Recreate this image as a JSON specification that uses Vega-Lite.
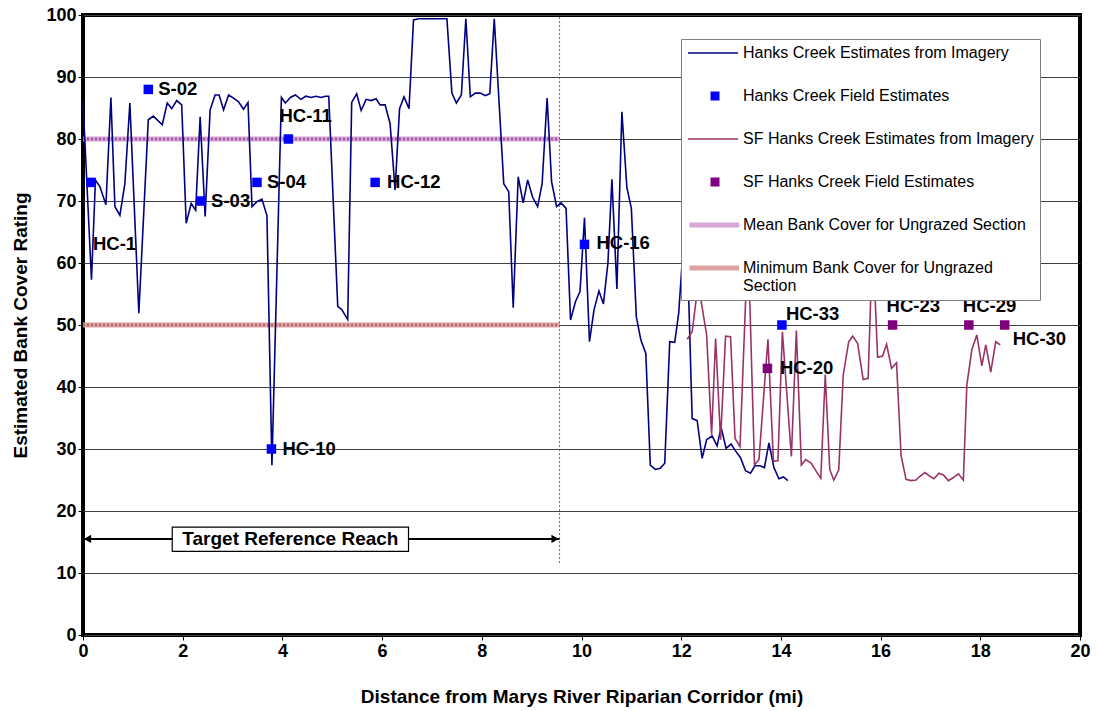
{
  "$schema": "https://vega.github.io/schema/vega-lite/v6.json",
  "width": 997,
  "height": 620,
  "autosize": {"type": "none"},
  "padding": {"left": 83, "top": 15, "right": 16, "bottom": 76},
  "background": "white",
  "config": {
    "view": {"stroke": "black", "strokeWidth": 4},
    "font": "Liberation Sans",
    "axis": {
      "labelFont": "Liberation Sans",
      "labelFontSize": 18,
      "labelFontWeight": "bold",
      "labelColor": "black",
      "labelFlush": false,
      "titleFont": "Liberation Sans",
      "titleFontSize": 19,
      "titleFontWeight": "bold",
      "titleColor": "black",
      "tickColor": "black",
      "tickSize": 5,
      "labelPadding": 2,
      "domain": false
    }
  },
  "datasets": {
    "hc": [
      {"x": 0.00, "y": 86.0}, {"x": 0.17, "y": 57.3}, {"x": 0.25, "y": 73.4}, {"x": 0.34, "y": 72.3},
      {"x": 0.46, "y": 69.4}, {"x": 0.56, "y": 86.7}, {"x": 0.64, "y": 69.1}, {"x": 0.74, "y": 67.7},
      {"x": 0.84, "y": 72.8}, {"x": 0.94, "y": 85.8}, {"x": 1.12, "y": 51.9}, {"x": 1.31, "y": 83.1},
      {"x": 1.41, "y": 83.7}, {"x": 1.59, "y": 82.3}, {"x": 1.69, "y": 85.8}, {"x": 1.78, "y": 84.9},
      {"x": 1.88, "y": 86.2}, {"x": 1.98, "y": 85.5}, {"x": 2.07, "y": 66.4}, {"x": 2.17, "y": 69.6},
      {"x": 2.26, "y": 68.5}, {"x": 2.35, "y": 83.6}, {"x": 2.45, "y": 67.5}, {"x": 2.55, "y": 84.7},
      {"x": 2.65, "y": 87.1}, {"x": 2.73, "y": 87.1}, {"x": 2.82, "y": 84.7}, {"x": 2.92, "y": 87.1},
      {"x": 3.02, "y": 86.6}, {"x": 3.12, "y": 86.0}, {"x": 3.22, "y": 84.8}, {"x": 3.31, "y": 85.9},
      {"x": 3.39, "y": 69.1}, {"x": 3.49, "y": 69.9}, {"x": 3.59, "y": 70.3}, {"x": 3.69, "y": 67.6},
      {"x": 3.79, "y": 27.4}, {"x": 3.98, "y": 86.7}, {"x": 4.06, "y": 85.8}, {"x": 4.16, "y": 86.7},
      {"x": 4.26, "y": 87.1}, {"x": 4.37, "y": 86.4}, {"x": 4.47, "y": 86.9}, {"x": 4.58, "y": 86.7},
      {"x": 4.67, "y": 86.9}, {"x": 4.78, "y": 86.7}, {"x": 4.86, "y": 86.9}, {"x": 4.93, "y": 86.9},
      {"x": 5.11, "y": 53.0}, {"x": 5.19, "y": 52.5}, {"x": 5.31, "y": 50.9}, {"x": 5.39, "y": 85.9},
      {"x": 5.49, "y": 87.3}, {"x": 5.58, "y": 84.6}, {"x": 5.68, "y": 86.4}, {"x": 5.78, "y": 86.2},
      {"x": 5.88, "y": 86.5}, {"x": 5.96, "y": 85.5}, {"x": 6.06, "y": 85.5}, {"x": 6.16, "y": 82.5},
      {"x": 6.26, "y": 71.8}, {"x": 6.35, "y": 84.9}, {"x": 6.44, "y": 86.8}, {"x": 6.54, "y": 84.9},
      {"x": 6.63, "y": 99.2}, {"x": 6.73, "y": 99.4}, {"x": 7.30, "y": 99.4}, {"x": 7.40, "y": 87.4},
      {"x": 7.49, "y": 85.8}, {"x": 7.59, "y": 87.1}, {"x": 7.68, "y": 99.4}, {"x": 7.77, "y": 86.8},
      {"x": 7.87, "y": 87.4}, {"x": 7.97, "y": 87.4}, {"x": 8.07, "y": 87.0}, {"x": 8.16, "y": 87.3},
      {"x": 8.25, "y": 99.4}, {"x": 8.44, "y": 72.8}, {"x": 8.54, "y": 71.5}, {"x": 8.63, "y": 52.8},
      {"x": 8.73, "y": 73.9}, {"x": 8.83, "y": 69.7}, {"x": 8.92, "y": 73.4}, {"x": 9.02, "y": 70.6},
      {"x": 9.12, "y": 69.1}, {"x": 9.21, "y": 72.8}, {"x": 9.31, "y": 86.6}, {"x": 9.40, "y": 73.1},
      {"x": 9.50, "y": 69.1}, {"x": 9.59, "y": 69.7}, {"x": 9.69, "y": 68.8}, {"x": 9.78, "y": 50.8},
      {"x": 9.88, "y": 53.8}, {"x": 9.97, "y": 55.4}, {"x": 10.06, "y": 67.3}, {"x": 10.16, "y": 47.3},
      {"x": 10.25, "y": 52.4}, {"x": 10.35, "y": 55.5}, {"x": 10.44, "y": 53.4}, {"x": 10.53, "y": 60.0},
      {"x": 10.61, "y": 73.5}, {"x": 10.71, "y": 55.8}, {"x": 10.81, "y": 84.4}, {"x": 10.91, "y": 72.2},
      {"x": 11.00, "y": 68.8}, {"x": 11.10, "y": 51.3}, {"x": 11.19, "y": 47.6}, {"x": 11.29, "y": 45.4},
      {"x": 11.38, "y": 27.4}, {"x": 11.48, "y": 26.7}, {"x": 11.58, "y": 26.9}, {"x": 11.67, "y": 27.7},
      {"x": 11.77, "y": 47.3}, {"x": 11.87, "y": 47.2}, {"x": 11.95, "y": 51.9}, {"x": 12.04, "y": 62.6},
      {"x": 12.10, "y": 66.0}, {"x": 12.15, "y": 54.6}, {"x": 12.22, "y": 34.9}, {"x": 12.32, "y": 34.6},
      {"x": 12.42, "y": 28.5}, {"x": 12.51, "y": 31.5}, {"x": 12.62, "y": 32.1}, {"x": 12.72, "y": 30.5},
      {"x": 12.80, "y": 33.5}, {"x": 12.90, "y": 30.1}, {"x": 13.00, "y": 30.8}, {"x": 13.09, "y": 29.7},
      {"x": 13.19, "y": 28.6}, {"x": 13.29, "y": 26.5}, {"x": 13.39, "y": 26.1}, {"x": 13.48, "y": 27.3},
      {"x": 13.58, "y": 27.3}, {"x": 13.67, "y": 27.0}, {"x": 13.76, "y": 31.0}, {"x": 13.86, "y": 27.0},
      {"x": 13.96, "y": 25.2}, {"x": 14.05, "y": 25.5}, {"x": 14.14, "y": 24.9}
    ],
    "sf": [
      {"x": 12.12, "y": 47.7}, {"x": 12.22, "y": 48.9}, {"x": 12.36, "y": 58.0}, {"x": 12.40, "y": 53.8},
      {"x": 12.51, "y": 48.4}, {"x": 12.61, "y": 32.3}, {"x": 12.69, "y": 47.8}, {"x": 12.79, "y": 31.5},
      {"x": 12.89, "y": 48.2}, {"x": 12.99, "y": 48.1}, {"x": 13.08, "y": 31.7}, {"x": 13.18, "y": 30.4},
      {"x": 13.34, "y": 64.0}, {"x": 13.47, "y": 27.4}, {"x": 13.56, "y": 28.3}, {"x": 13.74, "y": 47.7},
      {"x": 13.85, "y": 28.0}, {"x": 13.94, "y": 28.1}, {"x": 14.03, "y": 48.9}, {"x": 14.21, "y": 28.8},
      {"x": 14.31, "y": 49.1}, {"x": 14.41, "y": 27.4}, {"x": 14.50, "y": 28.3}, {"x": 14.61, "y": 27.7},
      {"x": 14.71, "y": 26.4}, {"x": 14.80, "y": 25.3}, {"x": 14.89, "y": 42.0}, {"x": 14.98, "y": 26.7},
      {"x": 15.06, "y": 25.0}, {"x": 15.16, "y": 26.6}, {"x": 15.25, "y": 41.9}, {"x": 15.36, "y": 47.3},
      {"x": 15.44, "y": 48.2}, {"x": 15.54, "y": 47.0}, {"x": 15.65, "y": 41.2}, {"x": 15.75, "y": 41.4},
      {"x": 15.84, "y": 64.0}, {"x": 15.94, "y": 44.8}, {"x": 16.04, "y": 45.0}, {"x": 16.12, "y": 46.9},
      {"x": 16.22, "y": 43.0}, {"x": 16.32, "y": 43.9}, {"x": 16.41, "y": 29.0}, {"x": 16.51, "y": 25.1},
      {"x": 16.61, "y": 24.9}, {"x": 16.71, "y": 25.0}, {"x": 16.79, "y": 25.6}, {"x": 16.89, "y": 26.2},
      {"x": 16.99, "y": 25.6}, {"x": 17.07, "y": 25.2}, {"x": 17.17, "y": 26.1}, {"x": 17.26, "y": 25.8},
      {"x": 17.36, "y": 24.9}, {"x": 17.46, "y": 25.4}, {"x": 17.56, "y": 26.0}, {"x": 17.66, "y": 25.0},
      {"x": 17.73, "y": 40.3}, {"x": 17.83, "y": 46.0}, {"x": 17.93, "y": 48.4}, {"x": 18.03, "y": 43.4},
      {"x": 18.11, "y": 46.8}, {"x": 18.21, "y": 42.4}, {"x": 18.31, "y": 47.3}, {"x": 18.40, "y": 46.8}
    ],
    "field": [
      {"label": "HC-1", "x": 0.16, "y": 73, "lx": 0.20, "ly": 63.1, "series": "Hanks Creek Field Estimates"},
      {"label": "S-02", "x": 1.31, "y": 88, "lx": 1.51, "ly": 88.1, "series": "Hanks Creek Field Estimates"},
      {"label": "S-03", "x": 2.37, "y": 70, "lx": 2.57, "ly": 70.0, "series": "Hanks Creek Field Estimates"},
      {"label": "S-04", "x": 3.49, "y": 73, "lx": 3.69, "ly": 73.1, "series": "Hanks Creek Field Estimates"},
      {"label": "HC-10", "x": 3.78, "y": 30, "lx": 4.00, "ly": 30.0, "series": "Hanks Creek Field Estimates"},
      {"label": "HC-11", "x": 4.12, "y": 80, "lx": 3.94, "ly": 83.7, "series": "Hanks Creek Field Estimates"},
      {"label": "HC-12", "x": 5.86, "y": 73, "lx": 6.10, "ly": 73.1, "series": "Hanks Creek Field Estimates"},
      {"label": "HC-16", "x": 10.06, "y": 63, "lx": 10.30, "ly": 63.2, "series": "Hanks Creek Field Estimates"},
      {"label": "HC-33", "x": 14.02, "y": 50, "lx": 14.10, "ly": 51.8, "series": "Hanks Creek Field Estimates"},
      {"label": "HC-20", "x": 13.73, "y": 43, "lx": 13.98, "ly": 43.1, "series": "SF Hanks Creek Field Estimates"},
      {"label": "HC-23", "x": 16.24, "y": 50, "lx": 16.12, "ly": 53.1, "series": "SF Hanks Creek Field Estimates"},
      {"label": "HC-29", "x": 17.77, "y": 50, "lx": 17.65, "ly": 53.1, "series": "SF Hanks Creek Field Estimates"},
      {"label": "HC-30", "x": 18.49, "y": 50, "lx": 18.65, "ly": 47.7, "series": "SF Hanks Creek Field Estimates"}
    ],
    "ref": [
      {"series": "Mean Bank Cover for Ungrazed Section", "x0": 0, "x1": 9.56, "v": 80},
      {"series": "Minimum Bank Cover for Ungrazed Section", "x0": 0, "x1": 9.56, "v": 50}
    ],
    "reach": [
      {"x0": 0, "x1": 9.56, "y": 15.5, "bx0": 1.79, "bx1": 6.53, "by0": 13.5, "by1": 17.4, "xc": 4.16, "text": "Target Reference Reach", "vy0": 11.6, "vy1": 100}
    ],
    "heads": [
      {"x": 0.09, "y": 15.5, "dir": "left"},
      {"x": 9.47, "y": 15.5, "dir": "right"}
    ]
  },
  "layer": [
    {
      "data": {"name": "ref"},
      "mark": {"type": "rule", "strokeWidth": 5},
      "encoding": {
        "x": {"field": "x0", "type": "quantitative", "scale": {"domain": [0, 20], "nice": false},
              "axis": {"values": [0, 2, 4, 6, 8, 10, 12, 14, 16, 18, 20], "grid": false, "title": "Distance from Marys River Riparian Corridor (mi)", "titlePadding": 27}},
        "x2": {"field": "x1"},
        "y": {"field": "v", "type": "quantitative", "scale": {"domain": [0, 100], "nice": false},
              "axis": {"values": [0, 10, 20, 30, 40, 50, 60, 70, 80, 90, 100], "grid": true, "gridColor": "#404040", "gridWidth": 1, "title": "Estimated Bank Cover Rating", "titlePadding": 15}},
        "color": {
          "field": "series", "type": "nominal",
          "scale": {
            "domain": ["Hanks Creek Estimates from Imagery", "Hanks Creek Field Estimates", "SF Hanks Creek Estimates from Imagery", "SF Hanks Creek Field Estimates", "Mean Bank Cover for Ungrazed Section", "Minimum Bank Cover for Ungrazed Section", "none2"],
            "range": ["transparent", "transparent", "transparent", "transparent", "#D7A6D7", "#DDA3A3", "transparent"]
          },
          "legend": {
            "orient": "none",
            "legendX": 598,
            "legendY": 24,
            "zindex": 2,
            "title": null,
            "padding": 6,
            "values": ["Hanks Creek Estimates from Imagery", "Hanks Creek Field Estimates", "SF Hanks Creek Estimates from Imagery", "SF Hanks Creek Field Estimates", "Mean Bank Cover for Ungrazed Section", "Minimum Bank Cover for Ungrazed Section"],
            "symbolType": "stroke",
            "symbolSize": 2500,
            "symbolStrokeWidth": 5,
            "symbolOpacity": 1,
            "labelFont": "Liberation Sans",
            "labelFontSize": 16,
            "labelColor": "transparent",
            "labelLimit": 400,
            "labelOffset": -3,
            "rowPadding": 27,
            "clipHeight": 16,
            "labelExpr": "' '"
          }
        }
      }
    },
    {
      "data": {"name": "ref"},
      "transform": [{"filter": "datum.v == 80"}],
      "mark": {"type": "rule", "strokeWidth": 3, "strokeDash": [2, 2], "color": "#A55AA5"},
      "encoding": {
        "x": {"field": "x0", "type": "quantitative"},
        "x2": {"field": "x1"},
        "y": {"field": "v", "type": "quantitative"}
      }
    },
    {
      "data": {"name": "ref"},
      "transform": [{"filter": "datum.v == 50"}],
      "mark": {"type": "rule", "strokeWidth": 3, "strokeDash": [2, 2], "color": "#B86A6A"},
      "encoding": {
        "x": {"field": "x0", "type": "quantitative"},
        "x2": {"field": "x1"},
        "y": {"field": "v", "type": "quantitative"}
      }
    },
    {
      "data": {"name": "reach"},
      "mark": {"type": "rule", "strokeWidth": 1, "strokeDash": [2, 2], "color": "#666666"},
      "encoding": {
        "x": {"field": "x1", "type": "quantitative"},
        "y": {"field": "vy0", "type": "quantitative"},
        "y2": {"field": "vy1"}
      }
    },
    {
      "data": {"name": "hc"},
      "mark": {"type": "line", "strokeWidth": 1.6},
      "encoding": {
        "x": {"field": "x", "type": "quantitative"},
        "y": {"field": "y", "type": "quantitative"},
        "stroke": {
          "datum": "Hanks Creek Estimates from Imagery", "type": "nominal",
          "scale": {
            "domain": ["Hanks Creek Estimates from Imagery", "Hanks Creek Field Estimates", "SF Hanks Creek Estimates from Imagery", "SF Hanks Creek Field Estimates", "Mean Bank Cover for Ungrazed Section", "Minimum Bank Cover for Ungrazed Section"],
            "range": ["#000080", "transparent", "#993366", "transparent", "transparent", "transparent"]
          },
          "legend": {
            "orient": "none",
            "legendX": 598,
            "legendY": 24,
            "zindex": 1,
            "title": null,
            "fillColor": "white",
            "strokeColor": "#808080",
            "padding": 6,
            "symbolType": "stroke",
            "symbolSize": 2500,
            "symbolStrokeWidth": 1.6,
            "symbolOpacity": 1,
            "labelFont": "Liberation Sans",
            "labelFontSize": 16,
            "labelColor": "black",
            "labelLimit": 400,
            "labelOffset": 4,
            "rowPadding": 27,
            "clipHeight": 16,
            "labelExpr": "datum.label == 'Minimum Bank Cover for Ungrazed Section' ? ['Minimum Bank Cover for Ungrazed', 'Section'] : datum.label"
          }
        }
      }
    },
    {
      "data": {"name": "sf"},
      "mark": {"type": "line", "strokeWidth": 1.6},
      "encoding": {
        "x": {"field": "x", "type": "quantitative"},
        "y": {"field": "y", "type": "quantitative"},
        "stroke": {"datum": "SF Hanks Creek Estimates from Imagery", "type": "nominal", "legend": null}
      }
    },
    {
      "data": {"name": "field"},
      "mark": {"type": "square", "size": 90, "opacity": 1, "filled": true},
      "encoding": {
        "x": {"field": "x", "type": "quantitative"},
        "y": {"field": "y", "type": "quantitative"},
        "fill": {
          "field": "series", "type": "nominal",
          "scale": {
            "domain": ["Hanks Creek Estimates from Imagery", "Hanks Creek Field Estimates", "SF Hanks Creek Estimates from Imagery", "SF Hanks Creek Field Estimates", "Mean Bank Cover for Ungrazed Section", "Minimum Bank Cover for Ungrazed Section", "none1"],
            "range": ["transparent", "#0000FF", "transparent", "#800080", "transparent", "transparent", "transparent"]
          },
          "legend": {
            "orient": "none",
            "legendX": 618,
            "legendY": 24,
            "zindex": 3,
            "title": null,
            "padding": 6,
            "values": ["Hanks Creek Estimates from Imagery", "Hanks Creek Field Estimates", "SF Hanks Creek Estimates from Imagery", "SF Hanks Creek Field Estimates", "Mean Bank Cover for Ungrazed Section", "Minimum Bank Cover for Ungrazed Section"],
            "symbolType": "square",
            "symbolSize": 81,
            "symbolStrokeWidth": 0,
            "symbolOpacity": 1,
            "labelFont": "Liberation Sans",
            "labelFontSize": 16,
            "labelColor": "transparent",
            "labelLimit": 400,
            "labelOffset": 4,
            "rowPadding": 27,
            "clipHeight": 16,
            "labelExpr": "' '"
          }
        }
      }
    },
    {
      "data": {"name": "field"},
      "mark": {"type": "text", "align": "left", "baseline": "middle", "font": "Liberation Sans", "fontSize": 18.5, "fontWeight": "bold", "color": "black"},
      "encoding": {
        "x": {"field": "lx", "type": "quantitative"},
        "y": {"field": "ly", "type": "quantitative"},
        "text": {"field": "label"}
      }
    },
    {
      "data": {"name": "reach"},
      "mark": {"type": "rule", "strokeWidth": 2, "color": "black"},
      "encoding": {
        "x": {"field": "x0", "type": "quantitative"},
        "x2": {"field": "x1"},
        "y": {"field": "y", "type": "quantitative"}
      }
    },
    {
      "data": {"name": "heads"},
      "transform": [{"filter": "datum.dir == 'left'"}],
      "mark": {"type": "point", "shape": "triangle-left", "filled": true, "color": "black", "size": 70, "opacity": 1},
      "encoding": {
        "x": {"field": "x", "type": "quantitative"},
        "y": {"field": "y", "type": "quantitative"}
      }
    },
    {
      "data": {"name": "heads"},
      "transform": [{"filter": "datum.dir == 'right'"}],
      "mark": {"type": "point", "shape": "triangle-right", "filled": true, "color": "black", "size": 70, "opacity": 1},
      "encoding": {
        "x": {"field": "x", "type": "quantitative"},
        "y": {"field": "y", "type": "quantitative"}
      }
    },
    {
      "data": {"name": "reach"},
      "mark": {"type": "rect", "fill": "white", "stroke": "black", "strokeWidth": 1.2},
      "encoding": {
        "x": {"field": "bx0", "type": "quantitative"},
        "x2": {"field": "bx1"},
        "y": {"field": "by0", "type": "quantitative"},
        "y2": {"field": "by1"}
      }
    },
    {
      "data": {"name": "reach"},
      "mark": {"type": "text", "align": "center", "baseline": "middle", "font": "Liberation Sans", "fontSize": 19, "fontWeight": "bold", "color": "black"},
      "encoding": {
        "x": {"field": "xc", "type": "quantitative"},
        "y": {"field": "y", "type": "quantitative"},
        "text": {"field": "text"}
      }
    }
  ]
}
